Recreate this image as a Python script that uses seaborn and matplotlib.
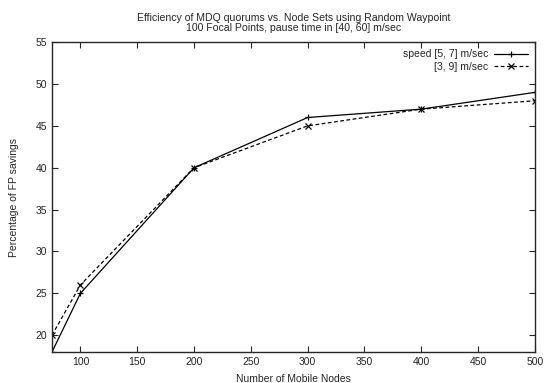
import matplotlib
matplotlib.use("Agg")
import matplotlib.pyplot as plt
import seaborn as sns
import pandas as pd

nodes = [75, 100, 200, 300, 400, 500]
speed_57 = [18, 25, 40, 46, 47, 49]
speed_39 = [20, 26, 40, 45, 47, 48]
labels = ["speed [5, 7] m/sec", "[3, 9] m/sec"]

sns.set_style("ticks")
plt.rcParams['font.family'] = ['Liberation Sans', 'DejaVu Sans']

fig = plt.figure(figsize=(5.45, 3.83), dpi=100)
ax = fig.add_axes([0.0954, 0.081, 0.886, 0.809])

styles = [("-", "+"), ((0, (3, 2)), "x")]
for vals, lab, (ls, mk) in zip([speed_57, speed_39], labels, styles):
    df = pd.DataFrame({"nodes": nodes, "savings": vals})
    sns.lineplot(data=df, x="nodes", y="savings", ax=ax, color="black",
                 linestyle=ls, marker=mk, markersize=4.5, markeredgewidth=0.9,
                 markeredgecolor="black", linewidth=0.9, label=lab)

ax.set_xlim(75, 500)
ax.set_ylim(18, 55)
ax.set_xticks(range(100, 501, 50))
ax.set_yticks(range(20, 56, 5))
ax.tick_params(direction="in", top=True, right=True, labelsize=7.5, length=4, width=0.8)
for s in ax.spines.values():
    s.set_linewidth(1.0)
    s.set_visible(True)
ax.set_xlabel("Number of Mobile Nodes", fontsize=7.5, labelpad=5)
ax.set_ylabel("Percentage of FP savings", fontsize=7.5, labelpad=12)
ax.set_title("Efficiency of MDQ quorums vs. Node Sets using Random Waypoint\n100 Focal Points, pause time in [40, 60] m/sec",
             fontsize=7.6, linespacing=1.0, pad=8)

h, l = ax.get_legend_handles_labels()
leg = ax.legend(h, l, loc="upper right", frameon=False, markerfirst=False,
                fontsize=7.5, handlelength=3.2, borderaxespad=0.3, labelspacing=0.2,
                handletextpad=0.6)
for t in leg.get_texts():
    t.set_ha("right")
leg._legend_box.align = "right"

fig.savefig("out.png", dpi=100)
